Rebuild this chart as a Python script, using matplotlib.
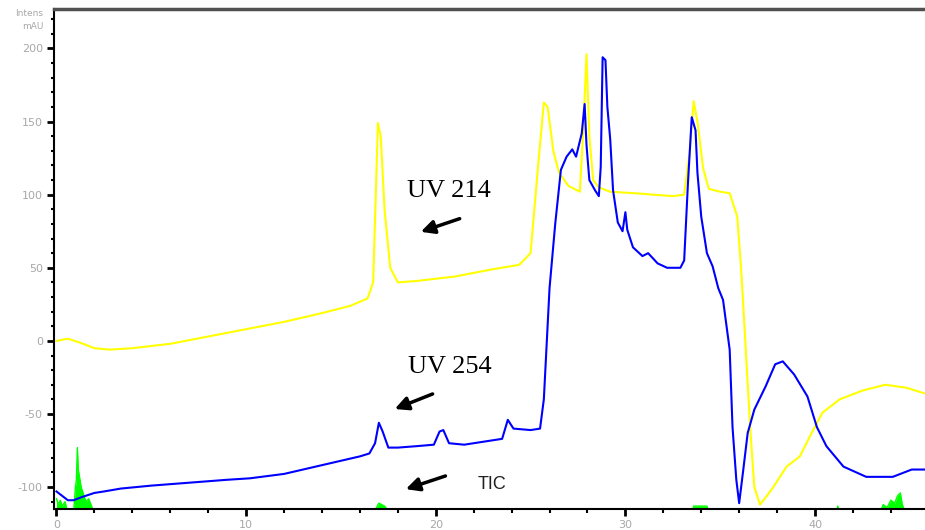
import matplotlib.pyplot as plt
from matplotlib.ticker import MultipleLocator

plt.rcParams['axes.unicode_minus'] = False

# UV 214 trace (yellow)
uv214_t = [0, 0.6, 1.2, 2.0, 2.8, 4, 6, 8, 10, 12, 14, 15.5, 16.4, 16.7, 16.95, 17.1, 17.3,
           17.6, 18.0, 19, 21, 23, 24.4, 25.0, 25.4, 25.7, 25.9, 26.2, 26.5, 27.0, 27.6, 27.8,
           27.95, 28.1, 28.3, 28.6, 29.2, 30.5, 31.5, 32.5, 33.1, 33.4, 33.6, 33.8, 34.1, 34.4,
           35.0, 35.5, 35.9, 36.1, 36.2, 36.4, 36.6, 36.8, 37.1, 37.4, 37.8, 38.5, 39.2, 39.9,
           40.4, 41.3, 42.5, 43.7, 44.8, 45.8]
uv214 = [0, 1.5, -1, -5, -6, -5, -2, 3, 8, 13, 19, 24, 29, 40, 149, 140, 90,
         50, 40, 41, 44, 49, 52, 60, 120, 163, 160, 130, 115, 106, 102, 150,
         196, 140, 110, 105, 102, 101, 100, 99, 100, 130, 164, 150, 118, 104,
         102, 101, 85, 50, 28, -18, -63, -100, -112, -107, -100, -86, -79, -61,
         -49, -40, -34, -30, -32, -36]

# UV 254 trace (blue)
uv254_t = [0, 0.6, 0.9, 1.3, 2.0, 2.5, 3.4, 5, 7, 9, 10.2, 12, 13, 14, 15, 16.0, 16.5, 16.8,
           17.0, 17.2, 17.5, 18, 19, 19.9, 20.2, 20.4, 20.7, 21.5, 22.5, 23.5, 23.8, 24.1,
           25.0, 25.5, 25.7, 26.0, 26.3, 26.6, 26.9, 27.2, 27.4, 27.7, 27.85, 27.95, 28.1,
           28.4, 28.6, 28.7, 28.8, 28.95, 29.05, 29.2, 29.35, 29.6, 29.85, 30.0, 30.1, 30.4,
           30.9, 31.2, 31.7, 32.2, 32.9, 33.1, 33.3, 33.5, 33.7, 33.8, 34.0, 34.3, 34.6, 34.9,
           35.15, 35.5, 35.65, 35.85, 36.0, 36.2, 36.45, 36.8, 37.4, 37.9, 38.3, 38.9, 39.6,
           40.1, 40.6, 41.5, 42.7, 44.1, 45.1, 45.8]
uv254 = [-103, -109, -109, -107, -104, -103, -101, -99, -97, -95, -94, -91, -88, -85, -82, -79, -77, -70,
         -56, -62, -73, -73, -72, -71, -62, -61, -70, -71, -69, -67, -54, -60,
         -61, -60, -40, 36, 80, 117, 126, 131, 126, 142, 162, 134, 110,
         103, 99, 119, 194, 192, 160, 138, 103, 81, 75, 88, 76, 64,
         58, 60, 53, 50, 50, 55, 108, 153, 144, 115, 85, 60, 51, 36,
         28, -6, -59, -95, -111, -90, -63, -47, -31, -16, -14, -23, -38,
         -59, -72, -86, -93, -93, -88, -88]

# TIC trace (green), mostly below the visible range
tic_t = [0, 0.1, 0.2, 0.3, 0.45, 0.6, 0.9, 1.0, 1.05, 1.1, 1.15, 1.2, 1.3, 1.4, 1.55, 1.7, 1.85,
         2.0, 16.7, 17.0, 17.3, 17.6, 33.5, 33.6, 34.3, 34.4, 41.1, 41.2, 41.3, 43.4, 43.6,
         43.8, 44.0, 44.2, 44.35, 44.5, 44.6, 44.8, 45.0, 45.8]
tic = [-108, -112, -109, -113, -110, -118, -118, -100, -95, -73, -88, -92, -100, -104, -110, -108, -113,
       -118, -118, -111, -113, -118, -118, -113, -113, -118, -118, -113, -118, -118, -112,
       -114, -109, -111, -106, -104, -112, -118, -118, -118]

fig = plt.figure(figsize=(9.25, 5.3), dpi=100)
ax = fig.add_axes([0.0584, 0.0396, 0.9416, 0.9434])

ax.fill_between(tic_t, -130, tic, color="#00ff00", lw=0)
ax.plot(tic_t, tic, color="#00ff00", lw=1)
ax.plot(uv214_t, uv214, color="#ffff00", lw=1.5)
ax.plot(uv254_t, uv254, color="#0000ff", lw=1.5)

ax.set_xlim(-0.13, 45.8)
ax.set_ylim(-115, 227)

ax.xaxis.set_major_locator(MultipleLocator(10))
ax.xaxis.set_minor_locator(MultipleLocator(2))
ax.yaxis.set_major_locator(MultipleLocator(50))
ax.yaxis.set_minor_locator(MultipleLocator(10))
ax.tick_params(which="major", length=5, width=2, color="black",
               labelsize=8, labelcolor="#a8a8a8", pad=3)
ax.tick_params(which="minor", length=3, width=1.5, color="black")
ax.tick_params(axis="y", which="minor", length=2)

ax.spines["right"].set_visible(False)
ax.spines["left"].set_linewidth(1.5)
ax.spines["bottom"].set_linewidth(1.5)
ax.spines["top"].set_linewidth(2.5)
ax.spines["top"].set_color("#505050")

fig.text(0.047, 0.975, "Intens", ha="right", va="center", fontsize=6.5, color="#a8a8a8")
fig.text(0.047, 0.95, "mAU", ha="right", va="center", fontsize=6.5, color="#a8a8a8")

serif = ["Liberation Serif", "DejaVu Serif"]
ax.text(18.5, 98.6, "UV 214", family=serif, fontsize=19, ha="left", va="baseline")
ax.text(18.55, -21.9, "UV 254", family=serif, fontsize=19, ha="left", va="baseline")
ax.text(22.2, -101.4, "TIC", family=["Liberation Sans", "DejaVu Sans"], fontsize=13,
        ha="left", va="baseline", color="#202020")

arrow = dict(arrowstyle="-|>,head_length=0.8,head_width=0.4", color="black", lw=2.5)
ax.annotate("", xy=(19.07, 74.0), xytext=(21.4, 84.2), arrowprops=arrow)
ax.annotate("", xy=(17.7, -47.3), xytext=(19.97, -35.6), arrowprops=arrow)
ax.annotate("", xy=(18.28, -102), xytext=(20.65, -91.8), arrowprops=arrow)

fig.savefig("out.png", dpi=100)
